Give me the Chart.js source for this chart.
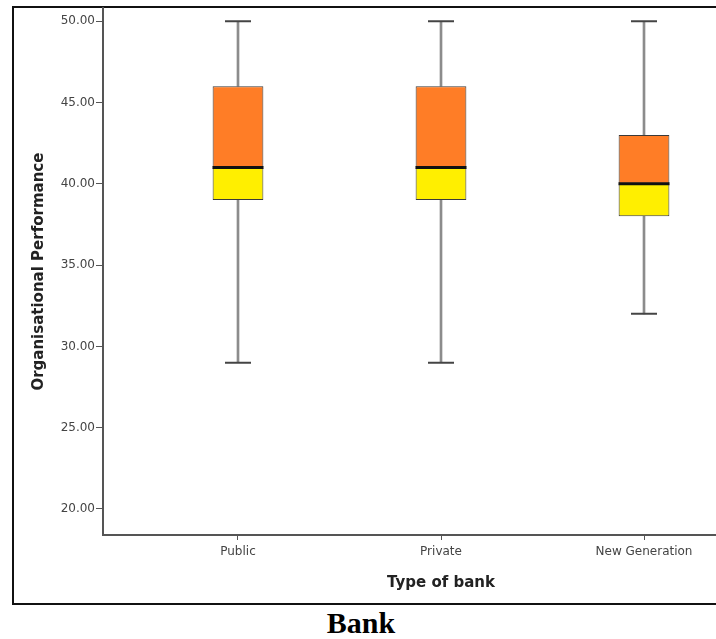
<!DOCTYPE html>
<html>
<head>
<meta charset="utf-8">
<script src="https://cdn.jsdelivr.net/npm/chart.js@4.4.0/dist/chart.umd.min.js"></script>
<style>
  html, body { margin: 0; padding: 0; overflow: hidden; background: #fff; }
  #frame {
    position: absolute; left: 12px; top: 6px;
    width: 800px; height: 595px;
    border: 2px solid #111;
  }
  #wrap { position: absolute; left: 0; top: 0; width: 800px; height: 600px; }
  #caption {
    position: absolute; left: 281px; top: 606px; width: 160px;
    text-align: center;
    font: bold 30px "Liberation Serif", "Times New Roman", serif;
    line-height: 34px; color: #000;
  }
</style>
</head>
<body>
<div id="frame"></div>
<div id="wrap"><canvas id="chart" width="800" height="600"></canvas></div>
<div id="caption">Bank</div>
<script>
// box plot data
const categories = ["Public", "Private", "New Generation"];
const minimum = [29, 29, 32];
const q1 = [39, 39, 38];
const median = [41, 41, 40];
const q3 = [46, 46, 43];
const maximum = [50, 50, 50];
const yTicks = [20, 25, 30, 35, 40, 45, 50];

const pos = categories.map((c, i) => i + 1);

const lowerWhisker = pos.map((x, i) => ({ x: x, y: [minimum[i], q1[i]] }));
const upperWhisker = pos.map((x, i) => ({ x: x, y: [q3[i], maximum[i]] }));
const lowerBox = pos.map((x, i) => ({ x: x, y: [q1[i], median[i]] }));
const upperBox = pos.map((x, i) => ({ x: x, y: [median[i], q3[i]] }));
const caps = [];
pos.forEach((x, i) => {
  caps.push({ x: x, y: maximum[i] });
  caps.push({ x: x, y: minimum[i] });
});
const medians = pos.map((x, i) => ({ x: x, y: median[i] }));

const ctx = document.getElementById("chart");

new Chart(ctx, {
  type: "bar",
  data: {
    datasets: [
      {
        data: medians, type: "line", showLine: false, order: 0,
        pointStyle: "line", pointRadius: 25.5, pointHoverRadius: 25.5,
        borderColor: "#111", pointBorderWidth: 3, borderWidth: 3,
      },
      {
        data: caps, type: "line", showLine: false, order: 1,
        pointStyle: "line", pointRadius: 13, pointHoverRadius: 13,
        borderColor: "#444", pointBorderWidth: 2, borderWidth: 2,
      },
      {
        data: upperBox, order: 2, grouped: false,
        barPercentage: 0.25, categoryPercentage: 1,
        backgroundColor: "#FF7D26", borderColor: "#3a3a3a",
        borderWidth: 1, borderSkipped: false,
      },
      {
        data: lowerBox, order: 2, grouped: false,
        barPercentage: 0.25, categoryPercentage: 1,
        backgroundColor: "#FFEF00", borderColor: "#3a3a3a",
        borderWidth: 1, borderSkipped: false,
      },
      {
        data: upperWhisker, order: 3, grouped: false, barThickness: 2,
        backgroundColor: "#8c8c8c", borderWidth: 0,
      },
      {
        data: lowerWhisker, order: 3, grouped: false, barThickness: 2,
        backgroundColor: "#8c8c8c", borderWidth: 0,
      },
    ],
  },
  options: {
    responsive: false,
    animation: false,
    layout: { autoPadding: false, padding: { top: 8, left: 0, right: 21, bottom: 0 } },
    plugins: {
      legend: { display: false },
      tooltip: { enabled: false },
    },
    scales: {
      x: {
        type: "linear",
        offset: false,
        min: 0.335,
        max: 3.665,
        afterBuildTicks: (axis) => { axis.ticks = pos.map((v) => ({ value: v })); },
        afterFit: (axis) => { axis.height = 65; },
        ticks: {
          callback: (v) => categories[v - 1],
          color: "#444",
          padding: 5,
          maxRotation: 0,
          font: { family: "DejaVu Sans", size: 12 },
        },
        grid: { offset: false, drawOnChartArea: false, tickLength: 5, tickColor: "#555" },
        border: { color: "#555", width: 2 },
        title: {
          display: true,
          text: "Type of bank",
          color: "#222",
          padding: { top: 0, bottom: 8 },
          font: { family: "DejaVu Sans", size: 15, weight: "bold" },
        },
      },
      y: {
        min: 18.4,
        max: 50.8,
        afterBuildTicks: (axis) => { axis.ticks = yTicks.map((v) => ({ value: v })); },
        afterFit: (axis) => { axis.width = 103; },
        ticks: {
          callback: (v) => v.toFixed(2),
          color: "#444",
          padding: 1,
          font: { family: "DejaVu Sans", size: 12 },
        },
        grid: { drawOnChartArea: false, tickLength: 7, tickColor: "#555" },
        border: { color: "#555", width: 2 },
        title: {
          display: true,
          text: "Organisational Performance",
          color: "#222",
          padding: { top: 30, bottom: 0 },
          font: { family: "DejaVu Sans", size: 15, weight: "bold" },
        },
      },
    },
  },
});
</script>
</body>
</html>
